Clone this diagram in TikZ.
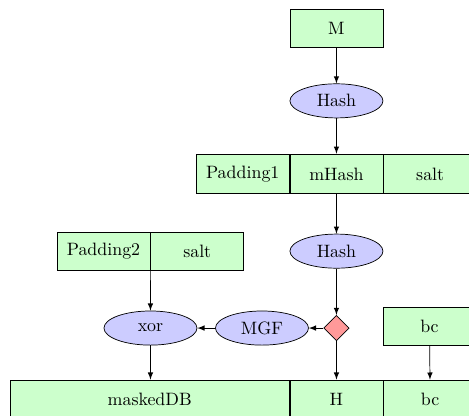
\documentclass[tikz,border=0pt]{standalone}
\usepackage{tikz}
\usetikzlibrary{positioning,shapes.geometric}
\definecolor{boxgreen}{RGB}{204,255,204}
\definecolor{opblue}{RGB}{204,204,255}
\definecolor{splitred}{RGB}{255,153,153}
\tikzset{
  field/.style={draw, fill=boxgreen, minimum width=1.826cm, minimum height=0.74cm, inner sep=0pt},
  op/.style={draw, ellipse, fill=opblue, minimum width=1.826cm, minimum height=0.67cm, inner sep=0pt},
  split/.style={draw, diamond, fill=splitred, minimum size=0.5cm, inner sep=0pt},
  flow/.style={-latex}
}
\begin{document}
\begin{tikzpicture}
\useasboundingbox (0,0) rectangle (9.207,-8.166);
\clip (0,0) rectangle (9.207,-8.166);
% top: message and first hash
\node[field] (m) at (6.605,-0.56) {M};
\node[op] (hash1) at (6.605,-1.98) {Hash};
% M' = padding1 | mHash | salt
\node[field, minimum height=0.78cm] (mhash) at (6.605,-3.415) {mHash};
\node[field, minimum height=0.78cm, left=0pt of mhash] (pad1) {Padding1};
\node[field, minimum height=0.78cm, right=0pt of mhash] (salt1) {salt};
\node[op] (hash2) at (6.605,-4.93) {Hash};
% DB = padding2 | salt
\node[field] (pad2) at (2.032,-4.93) {Padding2};
\node[field, right=0pt of pad2] (salt2) {salt};
% masking
\node[split] (fork) at (6.605,-6.44) {};
\node[op] (mgf) at (5.143,-6.44) {MGF};
\node[op] (xor) at (2.954,-6.44) {xor};
\node[field] (bc1) at (8.431,-6.40) {bc};
% output: maskedDB | H | bc
\node[field, minimum height=0.78cm] (h) at (6.605,-7.85) {H};
\node[field, minimum height=0.78cm, minimum width=5.478cm, left=0pt of h] (mdb) {maskedDB};
\node[field, minimum height=0.78cm, right=0pt of h] (bc2) {bc};
% connectors
\draw[flow] (m) -- (hash1);
\draw[flow] (hash1) -- (mhash);
\draw[flow] (mhash) -- (hash2);
\draw[flow] (hash2) -- (fork);
\draw[flow] (fork) -- (mgf);
\draw[flow] (mgf) -- (xor);
\draw[flow] (pad2.south east) -- (xor);
\draw[flow] (xor) -- (xor |- mdb.north);
\draw[flow] (fork) -- (h);
\draw[flow] (bc1) -- (bc2);
\end{tikzpicture}
\end{document}
